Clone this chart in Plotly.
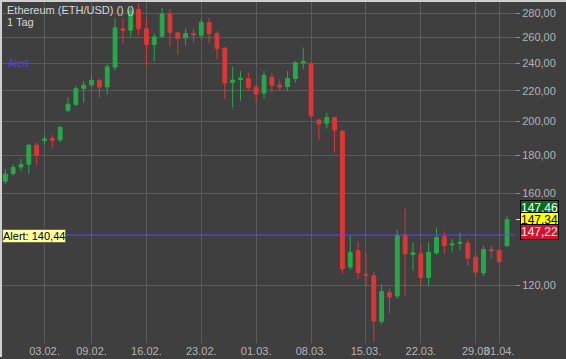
import math
import pandas as pd
import plotly.graph_objects as go

# ---- data (daily candles, ETH/USD, 29.01.2020 - 02.04.2020) ----
dates = pd.date_range("2020-01-29", periods=65, freq="D")

opens = [166.1, 170.1, 173.6, 175.1, 185.8, 188.6, 189.7, 188.9, 207.1, 211.0,
         221.8, 224.1, 227.4, 222.8, 237.0, 267.0, 265.8, 283.5, 267.0, 254.3,
         261.0, 279.7, 263.7, 259.6, 263.1, 261.7, 272.3, 263.1, 251.5, 226.0,
         228.0, 228.8, 222.6, 218.6, 229.7, 224.1, 223.0, 228.6, 240.0, 239.7,
         201.0, 198.9, 202.5, 194.2, 127.1, 133.8, 124.3, 123.7, 107.3, 117.3,
         116.1, 140.4, 132.2, 132.4, 123.0, 132.8, 139.8, 136.1, 136.8, 137.0,
         131.1, 124.8, 134.2, 133.8, 135.8]
highs = [172.4, 175.0, 177.9, 186.5, 187.4, 191.7, 191.7, 197.3, 215.6, 223.4,
         226.9, 231.6, 228.6, 239.0, 275.7, 276.4, 285.5, 288.8, 276.4, 263.2,
         285.0, 284.1, 265.0, 267.2, 267.0, 275.4, 276.4, 265.0, 252.0, 237.4,
         234.1, 232.8, 224.6, 234.1, 232.8, 228.1, 234.1, 241.5, 251.7, 240.2,
         201.5, 205.6, 202.7, 194.5, 140.4, 137.6, 133.1, 125.2, 120.4, 118.8,
         142.8, 152.6, 137.3, 136.1, 137.3, 143.4, 141.9, 138.6, 141.6, 138.6,
         133.1, 135.9, 135.9, 134.5, 148.9]
lows = [164.6, 169.0, 171.4, 169.8, 174.7, 186.4, 184.1, 187.6, 206.0, 209.9,
        212.2, 222.5, 215.5, 217.7, 234.8, 255.6, 260.4, 261.5, 237.7, 241.4,
        259.6, 252.9, 246.5, 253.7, 255.6, 258.2, 255.6, 242.7, 214.8, 208.9,
        213.4, 220.0, 212.2, 215.0, 219.0, 220.0, 220.0, 225.8, 235.3, 202.5,
        188.7, 195.7, 181.6, 124.5, 125.9, 122.5, 119.5, 100.6, 106.4, 109.9,
        115.1, 116.2, 125.7, 119.8, 119.8, 132.0, 132.4, 133.1, 133.8, 127.5,
        123.2, 123.6, 130.7, 128.4, 135.4]
closes = [169.8, 173.4, 175.0, 185.8, 180.1, 189.4, 188.7, 196.3, 211.0, 221.6,
          223.9, 227.4, 222.7, 237.2, 267.8, 265.8, 282.5, 267.0, 254.3, 260.4,
          279.7, 264.2, 259.2, 263.1, 262.0, 272.5, 263.1, 251.2, 225.5, 227.6,
          229.0, 222.5, 217.9, 230.9, 223.9, 222.7, 228.8, 240.2, 241.2, 203.6,
          198.5, 202.5, 194.8, 126.4, 133.1, 124.9, 123.8, 107.4, 117.8, 115.8,
          140.4, 132.4, 132.9, 123.0, 133.1, 139.4, 135.9, 136.6, 137.3, 130.7,
          125.1, 134.2, 133.6, 129.3, 147.34]

y_tick_vals = [120, 160, 180, 200, 220, 240, 260, 280]
y_tick_text = ["120,00", "160,00", "180,00", "200,00", "220,00", "240,00", "260,00", "280,00"]
x_tick_vals = ["2020-02-03", "2020-02-09", "2020-02-16", "2020-02-23", "2020-03-01",
               "2020-03-08", "2020-03-15", "2020-03-22", "2020-03-29", "2020-04-01"]
x_tick_text = ["03.02.", "09.02.", "16.02.", "23.02.", "01.03.", "08.03.",
               "15.03.", "22.03.", "29.03", "01.04."]

alert_level = 140.44
ask_price = 147.46
last_price = 147.34
bid_price = 147.22

title_text = "Ethereum (ETH/USD) () ()"
period_text = "1 Tag"

# ---- styling ----
BG = "#3f3f3f"
GRID = "#5a5a5a"
TICKC = "#b4b4b4"
GREEN = "#27a849"
RED = "#dc3636"
FONT = "Liberation Sans, Arial, sans-serif"

fig = go.Figure()
fig.add_trace(go.Candlestick(
    x=dates, open=opens, high=highs, low=lows, close=closes,
    increasing=dict(line=dict(color=GREEN, width=1), fillcolor=GREEN),
    decreasing=dict(line=dict(color=RED, width=1), fillcolor=RED),
    whiskerwidth=0, hoverinfo="skip", showlegend=False,
))

W, H = 566, 359
ml, mr, mt, mb = 2, 52, 2, 14
plot_w = W - ml - mr
plot_h = H - mt - mb

fig.update_layout(
    width=W, height=H,
    margin=dict(l=ml, r=mr, t=mt, b=mb, pad=0),
    paper_bgcolor=BG, plot_bgcolor=BG,
    font=dict(family=FONT, size=11, color=TICKC),
    showlegend=False,
    boxgap=0.3,
    xaxis=dict(
        type="date",
        range=["2020-01-28 13:54", "2020-04-02 21:18"],
        rangeslider=dict(visible=False),
        tickmode="array", tickvals=x_tick_vals, ticktext=x_tick_text,
        tickangle=0,
        showgrid=True, gridcolor=GRID, gridwidth=1,
        showline=False, zeroline=False, ticks="",
        tickfont=dict(family=FONT, size=11, color=TICKC),
        fixedrange=True,
    ),
    yaxis=dict(
        type="log", side="right",
        range=[math.log10(100.3), math.log10(290.3)],
        tickmode="array", tickvals=y_tick_vals, ticktext=y_tick_text,
        showgrid=True, gridcolor=GRID, gridwidth=1,
        showline=False, zeroline=False,
        ticks="outside", ticklen=5, tickcolor="#8a8a8a",
        ticklabelstandoff=0,
        tickfont=dict(family=FONT, size=11, color=TICKC),
        fixedrange=True,
    ),
)

shapes = []
# alert line
shapes.append(dict(type="line", xref="paper", yref="y", x0=0, x1=1,
                   y0=alert_level, y1=alert_level,
                   line=dict(color="#6244ff", width=1)))
# last price marker dash
shapes.append(dict(type="line", xref="paper", yref="y",
                   x0=1 + 2 / plot_w, x1=1 + 6 / plot_w,
                   y0=last_price, y1=last_price,
                   line=dict(color="#e8e8e8", width=1)))
# light window border top and left
shapes.append(dict(type="line", xref="paper", yref="paper",
                   x0=-ml / plot_w, x1=1 + mr / plot_w,
                   y0=1 + (mt - 1) / plot_h, y1=1 + (mt - 1) / plot_h,
                   line=dict(color="#cfcfcf", width=2)))
shapes.append(dict(type="line", xref="paper", yref="paper",
                   x0=-1 / plot_w, x1=-1 / plot_w,
                   y0=-mb / plot_h, y1=1 + mt / plot_h,
                   line=dict(color="#cfcfcf", width=2)))
fig.update_layout(shapes=shapes)

ann = []
ann.append(dict(text=title_text, xref="paper", yref="paper", x=0, y=1,
                xanchor="left", yanchor="top", xshift=3, yshift=0, showarrow=False,
                font=dict(family=FONT, size=11, color="#d8d8d8")))
ann.append(dict(text=period_text, xref="paper", yref="paper", x=0, y=1,
                xanchor="left", yanchor="top", xshift=3, yshift=-12, showarrow=False,
                font=dict(family=FONT, size=11, color="#d8d8d8")))
ann.append(dict(text="Alert", xref="paper", yref="paper", x=0, y=1,
                xanchor="left", yanchor="top", xshift=4, yshift=-54, showarrow=False,
                font=dict(family=FONT, size=10, color="#5a3cf0")))
# annotations on a log axis take log10 positions
ann.append(dict(text="Alert: " + f"{alert_level:.2f}".replace(".", ","),
                xref="paper", yref="y", x=0, y=math.log10(alert_level),
                xanchor="left", yanchor="middle", xshift=0, yshift=-1, showarrow=False,
                bgcolor="#ffffa0", bordercolor="#6a6a50", borderwidth=1, borderpad=0,
                font=dict(family=FONT, size=11, color="#000000")))
for price, bg, fg, shift in [(ask_price, "#0b6b1d", "#ffffff", 12),
                             (last_price, "#ffff00", "#000000", 0),
                             (bid_price, "#d41230", "#ffffff", -12)]:
    ann.append(dict(text=f"{price:.2f}".replace(".", ","),
                    xref="paper", yref="y", x=1, y=math.log10(last_price),
                    xanchor="left", yanchor="middle", xshift=6, yshift=shift,
                    showarrow=False, bgcolor=bg, bordercolor="#000000",
                    borderwidth=1, borderpad=0,
                    font=dict(family=FONT, size=12, color=fg)))
fig.update_layout(annotations=ann)

fig.write_html(
    "out.html",
    config={"displayModeBar": False, "staticPlot": True},
    post_script="document.body.style.margin='0';document.body.style.padding='0';"
                "document.body.style.overflow='hidden';",
)
